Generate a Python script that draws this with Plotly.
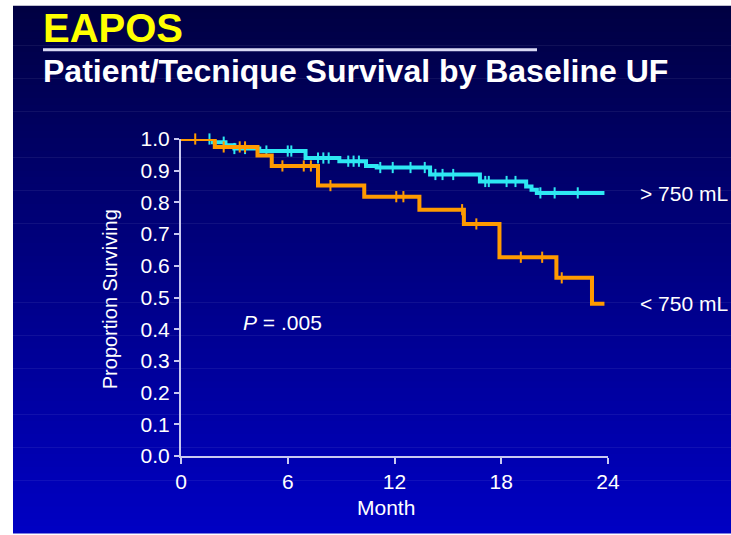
import numpy as np
import plotly.graph_objects as go

# ---- data ----
months_hi = [0, 1.8, 2.5, 3.0, 4.4, 7.0, 8.9, 10.4, 11.0, 14.0, 16.8, 19.4, 19.7, 20.0, 23.8]
surv_hi = [1.0, 0.99, 0.98, 0.97, 0.962, 0.94, 0.93, 0.915, 0.91, 0.888, 0.866, 0.85, 0.84, 0.83, 0.83]
censor_hi = [1.6, 2.4, 3.0, 3.6, 4.8, 6.0, 6.2, 7.7, 8.0, 8.3, 9.4, 9.7, 10.0, 11.2, 11.9,
             12.9, 13.7, 14.3, 14.7, 15.3, 17.1, 17.3, 18.3, 18.8, 20.2, 21.0, 22.3]

months_lo = [0, 1.9, 4.3, 5.1, 7.7, 10.3, 13.4, 15.9, 17.9, 21.1, 23.1, 23.8]
surv_lo = [1.0, 0.975, 0.948, 0.915, 0.853, 0.818, 0.777, 0.732, 0.627, 0.562, 0.48, 0.48]
censor_lo = [0.8, 2.4, 3.3, 3.6, 5.7, 6.9, 7.3, 8.4, 12.1, 12.5, 15.8, 16.6, 19.1, 20.3, 21.4]

x_ticks = [0, 6, 12, 18, 24]
labels = ["> 750 mL", "< 750 mL"]

W, H = 731, 535
L, R, T, B = 181, 608, 138.5, 456  # plot area in pixels


def xp(px):
    return (px - L) / (R - L)


def yp(py):
    return (B - py) / (B - T)


def step_at(times, surv, t):
    idx = np.searchsorted(times, t, side="right") - 1
    return [surv[i] for i in idx]


CYAN = "#2EE8F2"
ORANGE = "#FF9A00"
AXIS = "#C8C8F0"
FONT = "Liberation Sans, Arial, sans-serif"
FS = 21

fig = go.Figure()
for t, s, c, col, name in [
    (months_hi, surv_hi, censor_hi, CYAN, labels[0]),
    (months_lo, surv_lo, censor_lo, ORANGE, labels[1]),
]:
    fig.add_trace(go.Scatter(x=t, y=s, mode="lines", line=dict(color=col, width=4, shape="hv"),
                             cliponaxis=False, showlegend=False, name=name))
    fig.add_trace(go.Scatter(x=c, y=step_at(np.array(t), s, np.array(c)), mode="markers",
                             marker=dict(symbol="line-ns", size=8, line=dict(color=col, width=2)),
                             cliponaxis=False, showlegend=False))

# background gradient bands
shapes = []
top_px, bot_px, left_px = 5, 533, 13
n = 80
c0 = np.array([0, 0, 66])
c1 = np.array([0, 0, 196])
for i in range(n):
    y0 = top_px + (bot_px - top_px) * i / n
    y1 = top_px + (bot_px - top_px) * (i + 1) / n + 0.6
    f = (i + 0.5) / n
    c = c0 + (c1 - c0) * f
    shapes.append(dict(type="rect", xref="paper", yref="paper", layer="below",
                       x0=xp(left_px), x1=xp(W + 5), y0=yp(y0), y1=yp(y1),
                       line=dict(width=0), fillcolor=f"rgb({int(c[0])},{int(c[1])},{int(c[2])})"))
# title underline
shapes.append(dict(type="line", xref="paper", yref="paper", x0=xp(43), x1=xp(537),
                   y0=yp(49), y1=yp(49), line=dict(color="#D8D8F4", width=3)))

annotations = [
    dict(text="<b>EAPOS</b>", x=xp(41), y=yp(27), xanchor="left", yanchor="middle",
         font=dict(size=40, color="#FFFF00", family=FONT)),
    dict(text="<b>Patient/Tecnique Survival by Baseline UF</b>", x=xp(41), y=yp(70),
         xanchor="left", yanchor="middle", font=dict(size=32, color="white", family=FONT)),
    dict(text="Proportion Surviving", x=xp(110), y=yp(299), textangle=-90,
         xanchor="center", yanchor="middle", font=dict(size=20, color="white", family=FONT)),
    dict(text="Month", x=xp(386), y=yp(508), xanchor="center", yanchor="middle",
         font=dict(size=FS, color="white", family=FONT)),
    dict(text="> 750 mL", x=xp(638), y=yp(193), xanchor="left", yanchor="middle",
         font=dict(size=FS, color="white", family=FONT)),
    dict(text="< 750 mL", x=xp(638), y=yp(303), xanchor="left", yanchor="middle",
         font=dict(size=FS, color="white", family=FONT)),
    dict(text="<i>P</i> = .005", x=xp(241), y=yp(322), xanchor="left", yanchor="middle",
         font=dict(size=FS, color="white", family=FONT)),
]
for a in annotations:
    a.update(xref="paper", yref="paper", showarrow=False)

fig.update_layout(
    width=W, height=H,
    margin=dict(l=L, r=W - R, t=T, b=H - B, pad=0),
    paper_bgcolor="white", plot_bgcolor="rgba(0,0,0,0)",
    shapes=shapes, annotations=annotations,
    xaxis=dict(range=[0, 24], tickvals=x_ticks, showgrid=False, zeroline=False,
               showline=True, linecolor=AXIS, linewidth=2, ticks="outside", ticklen=6,
               tickwidth=2, tickcolor=AXIS, tickfont=dict(size=FS, color="white", family=FONT)),
    yaxis=dict(range=[0, 1], dtick=0.1, tickformat=".1f", showgrid=False, zeroline=False,
               showline=True, linecolor=AXIS, linewidth=2, ticks="outside", ticklen=5,
               tickwidth=2, tickcolor=AXIS, tickfont=dict(size=FS, color="white", family=FONT)),
)

fig.write_html("out.html")
